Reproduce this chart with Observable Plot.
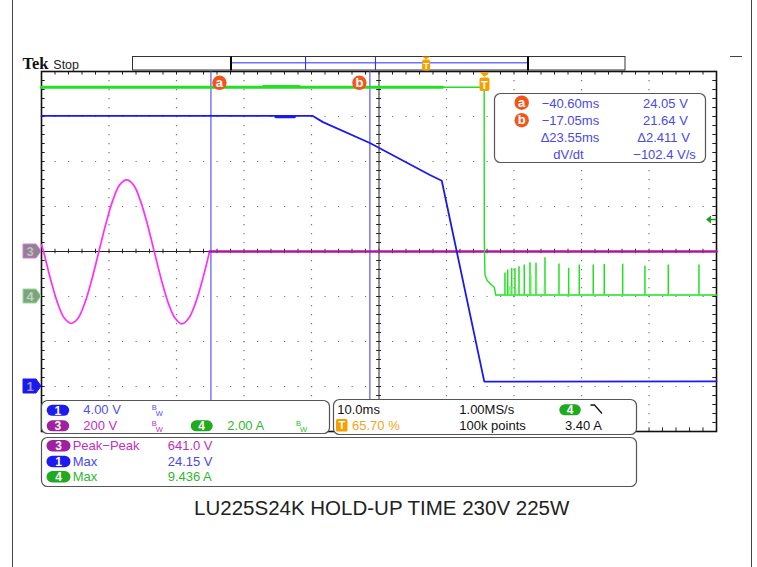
<!DOCTYPE html>
<html><head><meta charset="utf-8">
<script src="https://cdn.jsdelivr.net/npm/d3@7"></script>
<script src="https://cdn.jsdelivr.net/npm/@observablehq/plot@0.6"></script>
<style>
body{margin:0;background:#fff;}
#wrap{position:relative;width:757px;height:567px;overflow:hidden;background:#fff;}
</style></head>
<body><div id="wrap"></div>
<script>
// ---------- scope settings ----------
const tMin = -65.7, tMax = 34.3;          // ms, trigger at 65.70 %
const triggerPct = "65.70 %";
const ch1Scale = 4,   ch1Offset = -3;     // V/div, divisions
const ch3Scale = 200, ch3Offset = 0;
const ch4Scale = 2,   ch4Offset = -1;
const ch4TrigLevel = 3.40;                // A

// ---------- channel 1 (blue, V) ----------
const ch1Time = [-65.7, -25.5, -24.0, -17.05, -8.15, -6.4, -0.1, 34.3];
const ch1Volt = [24.05, 24.05, 23.5, 21.64, 18.8, 18.29, 0.43, 0.45];
const ch1NoiseTime = [-31.0, -28.2];
const ch1NoiseVolt = [23.97, 23.97];

// ---------- channel 3 (magenta, V) ----------
const ch3Time = [-65.7,-65.4,-64.37,-63.35,-62.32,-61.3,-60.27,-59.25,-58.22,-57.2,-56.17,-55.15,-54.12,-53.1,-52.07,-51.05,-50.02,-49.0,-47.97,-46.95,-45.92,-44.9,-43.87,-42.85,-41.82,-40.8];
const ch3Volt = [30,0,-122,-226,-296,-320,-296,-226,-122,0,122,226,296,318,296,226,122,0,-122,-226,-296,-322,-296,-226,-122,0];
const ch3FlatTime = [-40.8, 34.3];
const ch3FlatVolt = [0, 0];

// ---------- channel 4 (green, A) ----------
const ch4HighTime = [-65.7, -6.27];
const ch4HighAmp  = [9.3, 9.3];
const ch4NoiseTime = [-32.8, -27.5];
const ch4NoiseAmp  = [9.34, 9.34];
const ch4Time = [-6.27, -0.12, -0.1, 0.0, 0.34, 0.99, 1.38, 1.59, 34.3];
const ch4Amp  = [9.3, 9.3, 2.51, 0.96, 0.70, 0.51, 0.41, 0.07, 0.07];
const ch4Base = 0.07;
const spikeTime = [2.96, 3.36, 3.96, 4.44, 5.04, 5.82, 6.67, 7.56, 8.89, 10.96, 12.40, 13.97, 16.04, 17.67, 20.40, 23.70, 27.16, 31.70];
const spikePeak = [1.04, 1.18, 1.25, 1.25, 1.32, 1.40, 1.50, 1.48, 1.72, 1.44, 1.25, 1.40, 1.40, 1.42, 1.44, 1.35, 1.40, 1.40];
const shortTime = [3.56, 3.85, 4.59, 6.81, 7.65, 8.79, 10.86];
const shortPeak = [0.44, 0.44, 0.26, 0.96, 0.91, 0.44, 0.29];

// ---------- cursors & readouts ----------
const cursorNames = ["a", "b"];
const cursorTime  = [-40.60, -17.05];
const cursorVolt  = [24.05, 21.64];
const cursorTimeText = ["\u221240.60ms", "\u221217.05ms"];
const cursorVoltText = ["24.05 V", "21.64 V"];
const deltaTimeText = "\u039423.55ms";
const deltaVoltText = "\u03942.411 V";
const slopeLabel = "dV/dt";
const slopeText = "\u2212102.4 V/s";

// ---------- info panels ----------
const chanScaleText = ["4.00 V", "200 V", "2.00 A"];
const timeScaleText = "10.0ms";
const sampleRateText = "1.00MS/s";
const recordText = "100k points";
const trigLevelText = "3.40 A";
const measChan   = ["3", "1", "4"];
const measLabel  = ["Peak\u2212Peak", "Max", "Max"];
const measValue  = ["641.0 V", "24.15 V", "9.436 A"];
const caption = "LU225S24K HOLD-UP TIME 230V 225W";

// ---------- colours ----------
const C1 = "#1a1aee", C3 = "#ff2eff", C4 = "#22e022";
const T1 = "#4848ee", T3 = "#c030c0", T4 = "#2fb82f";
const ORANGE = "#f5a000", CURS = "#f2561d";

// ---------- derived tables ----------
const div = (v, s, o) => v / s + o;
const ch1 = ch1Time.map((t, i) => ({t, y: div(ch1Volt[i], ch1Scale, ch1Offset)}));
const ch1n = ch1NoiseTime.map((t, i) => ({t, y: div(ch1NoiseVolt[i], ch1Scale, ch1Offset)}));
const ch3 = ch3Time.map((t, i) => ({t, y: div(ch3Volt[i], ch3Scale, ch3Offset)}));
const ch3f = ch3FlatTime.map((t, i) => ({t, y: div(ch3FlatVolt[i], ch3Scale, ch3Offset)}));
const ch4h = ch4HighTime.map((t, i) => ({t, y: div(ch4HighAmp[i], ch4Scale, ch4Offset)}));
const ch4n = ch4NoiseTime.map((t, i) => ({t, y: div(ch4NoiseAmp[i], ch4Scale, ch4Offset)}));
const ch4 = ch4Time.map((t, i) => ({t, y: div(ch4Amp[i], ch4Scale, ch4Offset)}));
const spikes = spikeTime.map((t, i) => ({t, y1: div(ch4Base, ch4Scale, ch4Offset), y2: div(spikePeak[i], ch4Scale, ch4Offset)}));
const shorts = shortTime.map((t, i) => ({t, y1: div(ch4Base, ch4Scale, ch4Offset), y2: div(shortPeak[i], ch4Scale, ch4Offset)}));

// graticule
const xDivs = d3.range(0, 11).map(i => tMin + 10 * i);
const yDivs = d3.range(-4, 5);
const xMinor = d3.range(0, 51).map(i => tMin + 2 * i);
const yMinor = d3.range(0, 41).map(i => -4 + 0.2 * i);
const tCenter = tMin + 50;

const GRID = "#777", AX = "#222";
const svg = Plot.plot({
  width: 757, height: 567,
  marginLeft: 41, marginRight: 41, marginTop: 71, marginBottom: 136,
  style: {fontFamily: "'Liberation Sans', Arial, sans-serif", background: "#fff"},
  x: {domain: [tMin, tMax], axis: null},
  y: {domain: [-4, 4], axis: null},
  marks: [
    Plot.ruleY(yDivs.filter(d => d !== 0 && Math.abs(d) !== 4), {stroke: GRID, strokeWidth: 1.2, strokeDasharray: "1.2,12.3"}),
    Plot.ruleX(xDivs.filter((d, i) => i !== 0 && i !== 5 && i !== 10), {stroke: GRID, strokeWidth: 1.2, strokeDasharray: "1.2,7.8"}),
    Plot.ruleX([tCenter], {stroke: AX, strokeWidth: 1}),
    Plot.ruleY([0], {stroke: AX, strokeWidth: 1}),
    Plot.ruleY(yMinor, {x1: tCenter - 0.35, x2: tCenter + 0.35, stroke: AX}),
    Plot.ruleX(xMinor, {y1: -0.05, y2: 0.05, stroke: AX}),
    Plot.ruleX(xMinor, {y1: 4, y2: 3.92, stroke: AX}),
    Plot.ruleX(xMinor, {y1: -4, y2: -3.92, stroke: AX}),
    Plot.ruleY(yMinor, {x1: tMin, x2: tMin + 0.55, stroke: AX}),
    Plot.ruleY(yMinor, {x1: tMax, x2: tMax - 0.55, stroke: AX}),
    Plot.frame({stroke: "#111", strokeWidth: 1.6}),
    // cursors
    Plot.ruleX(cursorTime, {stroke: "#4a4af2", strokeWidth: 1.1}),
    // ch3
    Plot.line(ch3, {x: "t", y: "y", stroke: C3, strokeWidth: 1.7, curve: "catmull-rom"}),
    Plot.line(ch3f, {x: "t", y: "y", stroke: "#b0189a", strokeWidth: 2.6}),
    // ch4
    Plot.line(ch4h, {x: "t", y: "y", stroke: C4, strokeWidth: 3}),
    Plot.line(ch4n, {x: "t", y: "y", stroke: C4, strokeWidth: 2.5}),
    Plot.line(ch4, {x: "t", y: "y", stroke: C4, strokeWidth: 1.4}),
    Plot.ruleX(spikes, {x: "t", y1: "y1", y2: "y2", stroke: C4, strokeWidth: 1.5}),
    Plot.ruleX(shorts, {x: "t", y1: "y1", y2: "y2", stroke: "#66ee66", strokeWidth: 1.3}),
    // ch1
    Plot.line(ch1, {x: "t", y: "y", stroke: C1, strokeWidth: 1.8}),
    Plot.line(ch1n, {x: "t", y: "y", stroke: C1, strokeWidth: 2.6})
  ]
});

const sx = svg.scale("x"), sy = svg.scale("y");
const g = d3.select(svg).append("g").attr("font-family", "'Liberation Sans', Arial, sans-serif");

function txt(x, y, s, o = {}) {
  return g.append("text").attr("x", x).attr("y", y).attr("fill", o.fill || "#111")
    .attr("font-size", o.size || 13).attr("text-anchor", o.anchor || "start")
    .attr("font-weight", o.weight || "normal")
    .attr("font-family", o.family || null).text(s);
}
function pill(x, y, w, h, fill, label) {
  g.append("rect").attr("x", x).attr("y", y).attr("width", w).attr("height", h).attr("rx", h / 2).attr("fill", fill);
  txt(x + w / 2, y + h / 2 + 4.3, label, {fill: "#fff", size: 12, anchor: "middle", weight: "bold"});
}
function circ(cx, cy, label) {
  g.append("circle").attr("cx", cx).attr("cy", cy).attr("r", 7.2).attr("fill", CURS);
  txt(cx, cy + 4.2, label, {fill: "#fff", size: 13, anchor: "middle", weight: "bold"});
}
function panel(x, y, w, h) {
  g.append("rect").attr("x", x + 0.5).attr("y", y + 0.5).attr("width", w).attr("height", h).attr("rx", 6)
    .attr("fill", "#fff").attr("stroke", "#555").attr("stroke-width", 1.2);
}
function bw(x, y, fill) {
  txt(x, y, "B", {fill, size: 7.5});
  txt(x + 4, y + 6, "W", {fill, size: 7.5});
}

// cursor labels on graticule
const cyLab = sy.apply(3.738);
circ(sx.apply(cursorTime[0]) + 9, cyLab, cursorNames[0]);
circ(sx.apply(cursorTime[1]) - 10, cyLab, cursorNames[1]);

// trigger marker on graticule
const tx0 = sx.apply(0), topY = sy.apply(4);
g.append("path").attr("d", `M${tx0 - 5},${topY + 1} L${tx0 + 5},${topY + 1} L${tx0},${topY + 6} Z`).attr("fill", ORANGE);
g.append("rect").attr("x", tx0 - 5).attr("y", topY + 6.5).attr("width", 10).attr("height", 13.5).attr("rx", 2).attr("fill", ORANGE);
txt(tx0, topY + 17.5, "T", {fill: "#fff", size: 11, anchor: "middle", weight: "bold"});

// ch4 trigger level arrow (right side)
const ly = sy.apply(div(ch4TrigLevel, ch4Scale, ch4Offset));
const rx = sx.apply(tMax);
g.append("path").attr("d", `M${rx - 10},${ly} L${rx - 5},${ly - 4} L${rx - 5},${ly + 4} Z`).attr("fill", "#1aa01a");
g.append("line").attr("x1", rx - 5).attr("x2", rx).attr("y1", ly).attr("y2", ly).attr("stroke", "#1aa01a").attr("stroke-width", 1.5);

// channel ground markers (left)
const lx = sx.apply(tMin);
[[ch3Offset, "3", "#8c8490", "#e070e0", "#c8b8c8"], [ch4Offset, "4", "#7fa37f", "#90e090", "#b8d8b8"], [ch1Offset, "1", "#1a1af0", "#1a1af0", "#9a9ac8"]].forEach(([o, l, f, s, tf]) => {
  const y = sy.apply(o);
  g.append("path").attr("d", `M${lx - 18},${y - 7} L${lx - 5},${y - 7} L${lx},${y} L${lx - 5},${y + 7} L${lx - 18},${y + 7} Z`)
    .attr("fill", f).attr("stroke", s).attr("stroke-width", 1);
  txt(lx - 11, y + 5, l, {fill: tf, size: 13, anchor: "middle", weight: "bold"});
});

// document frame
g.append("line").attr("x1", 12.5).attr("x2", 12.5).attr("y1", 0).attr("y2", 567).attr("stroke", "#444");
g.append("line").attr("x1", 751.5).attr("x2", 751.5).attr("y1", 0).attr("y2", 567).attr("stroke", "#444");
g.append("line").attr("x1", 730).attr("x2", 742).attr("y1", 56.5).attr("y2", 56.5).attr("stroke", "#444");

// Tek Stop
txt(22.5, 69.3, "Tek", {family: "'Liberation Serif', 'Times New Roman', serif", weight: "bold", size: 16.5, fill: "#111"});
txt(53.3, 69.3, "Stop", {size: 12.5, fill: "#222"});

// record view bar
const bx = t => 231 + (t - tMin) / (tMax - tMin) * 297;
g.append("rect").attr("x", 132.5).attr("y", 56.5).attr("width", 492.5).attr("height", 13.5).attr("fill", "#fff").attr("stroke", "#333");
g.append("line").attr("x1", bx(tMin)).attr("x2", bx(tMax)).attr("y1", 62.7).attr("y2", 62.7).attr("stroke", "#7272ff").attr("stroke-width", 1.6);
cursorTime.forEach(t => g.append("line").attr("x1", bx(t)).attr("x2", bx(t)).attr("y1", 57).attr("y2", 70).attr("stroke", "#3232ee").attr("stroke-width", 1.1));
[bx(tMin), bx(tMax)].forEach(x => g.append("line").attr("x1", x).attr("x2", x).attr("y1", 56.5).attr("y2", 70.5).attr("stroke", "#000").attr("stroke-width", 2));
const bt = bx(0);
g.append("path").attr("d", `M${bt - 4},56.5 L${bt + 4},56.5 L${bt},59.5 Z`).attr("fill", ORANGE);
g.append("rect").attr("x", bt - 4).attr("y", 59.5).attr("width", 8).attr("height", 11).attr("rx", 2).attr("fill", ORANGE);
txt(bt, 68.5, "T", {fill: "#fff", size: 9, anchor: "middle", weight: "bold"});

// cursor readout panel
panel(494, 93, 211, 69);
const rowY = [107.5, 125, 142.3, 159];
cursorNames.forEach((n, i) => {
  circ(521.7, rowY[i] - 4.8, n);
  txt(541.7, rowY[i], cursorTimeText[i], {fill: T1});
  txt(643, rowY[i], cursorVoltText[i], {fill: T1});
});
txt(540.7, rowY[2], deltaTimeText, {fill: T1});
txt(637.3, rowY[2], deltaVoltText, {fill: T1});
txt(553.3, rowY[3], slopeLabel, {fill: T1});
txt(633.3, rowY[3], slopeText, {fill: T1});

// channel scale panel
panel(41, 400, 288, 33);
pill(46.7, 404.8, 22.5, 11, "#1c1cf0", "1");
txt(83.3, 414.3, chanScaleText[0], {fill: "#5050f0"});
bw(151.7, 410, "#5050f0");
pill(46.7, 420.3, 22.5, 11, "#a020a0", "3");
txt(83.3, 430, chanScaleText[1], {fill: T3});
bw(151.7, 425.5, T3);
pill(190.7, 420.3, 22, 11, "#1faa1f", "4");
txt(227.3, 430, chanScaleText[2], {fill: T4});
bw(296, 425.5, T4);

// timebase / trigger panel
panel(333, 399, 303, 35);
txt(337.3, 414, timeScaleText, {fill: "#111"});
txt(459.3, 414, sampleRateText, {fill: "#111"});
pill(559.3, 404.3, 21.5, 11, "#1faa1f", "4");
g.append("path").attr("d", "M590.5,405 L594.5,405 L602,413.5").attr("fill", "none").attr("stroke", "#111").attr("stroke-width", 1.3);
g.append("rect").attr("x", 336).attr("y", 419).attr("width", 11.5).attr("height", 12.5).attr("rx", 1.5).attr("fill", ORANGE);
txt(341.8, 429.3, "T", {fill: "#fff", size: 11, anchor: "middle", weight: "bold"});
txt(352, 429.5, triggerPct, {fill: "#f7a21b"});
txt(459.3, 429.5, recordText, {fill: "#111"});
txt(565, 429.5, trigLevelText, {fill: "#111"});

// measurement panel
panel(41, 437, 595, 49);
const measY = [450, 465.7, 481];
const measFill = {"3": ["#a020a0", T3], "1": ["#1c1cf0", T1], "4": ["#1faa1f", T4]};
measChan.forEach((c, i) => {
  pill(46.5, measY[i] - 10, 24, 11.5, measFill[c][0], c);
  txt(72.7, measY[i], measLabel[i], {fill: measFill[c][1]});
  txt(167.7, measY[i], measValue[i], {fill: measFill[c][1]});
});

// caption
txt(381.7, 515, caption, {size: 20.5, anchor: "middle", fill: "#222"});

document.getElementById("wrap").appendChild(svg);
</script>
</body></html>
